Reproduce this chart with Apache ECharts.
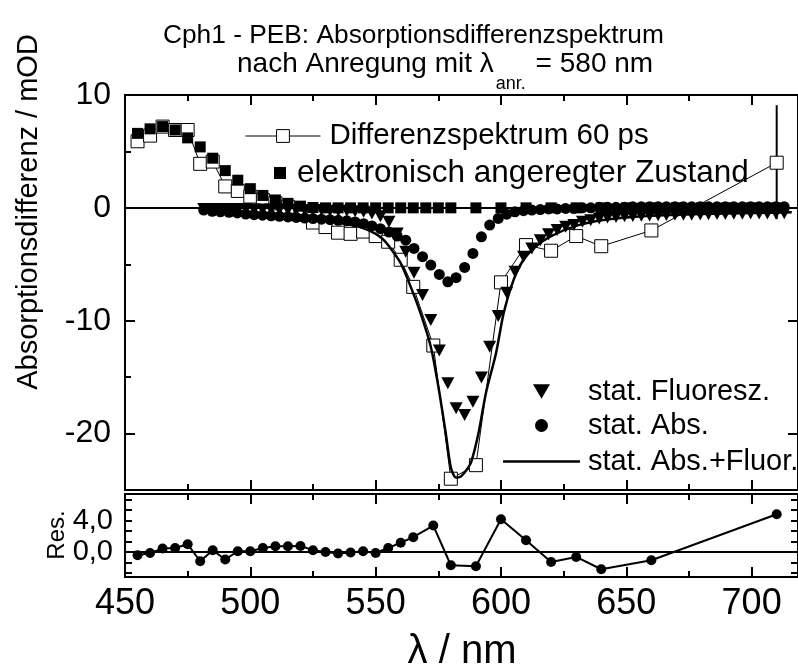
<!DOCTYPE html>
<html><head><meta charset="utf-8">
<script src="https://cdn.jsdelivr.net/npm/echarts@6/dist/echarts.min.js"></script>
<style>html,body{margin:0;padding:0;background:#fff}#c{width:798px;height:672px}</style>
</head><body><div id="c"></div>
<script>
// ---- data ----
const diffX = [455,460,465,470,475,480,485,490,495,500,505,510,515,520,525,530,535,540,545,550,555,560,565,573,580,590,600,610,620,630,640,660,710];
const diffY = [5.9,6.4,7.2,6.9,6.9,3.9,4.1,1.9,1.5,1.0,0.7,0.4,0.1,-0.6,-1.3,-1.7,-2.2,-2.3,-2.1,-2.5,-3.0,-4.6,-7.0,-12.2,-24.0,-22.8,-6.6,-3.3,-3.8,-2.5,-3.4,-2.0,4.0];
const resY  = [-0.42,-0.13,0.43,0.51,0.98,-1.19,0.22,-0.97,0.09,0.09,0.51,0.73,0.73,0.77,0.22,0.0,-0.21,-0.08,0.09,-0.13,0.51,1.18,1.88,3.37,-1.7,-1.83,4.18,1.49,-1.28,-0.64,-2.21,-1.06,4.81];
const excX = [455,460,465,470,475,480,485,490,495,500,505,510,515,520,525,530,535,540,545,550,555,560,565,570,575,580,590,600,610,620,630,640,650,660,670,680,690,700,710];
const excY = [6.6,7.0,7.2,6.9,6.2,5.4,4.4,3.3,2.45,1.7,1.1,0.7,0.4,0.15,0.03,0,0,0,0,0,0,0,0,0,0,0,0,0,0,0,0,0,0,0,0,0,0,0,0];
const statX = [481.4,484.8,488.1,491.5,494.8,498.2,501.5,504.9,508.3,511.6,
  515.0,518.3,521.7,525.0,528.4,531.8,535.1,538.5,541.8,545.2,
  548.5,551.9,555.3,558.6,562.0,565.3,568.7,572.0,575.4,578.8,
  582.1,585.5,588.8,592.2,595.5,598.9,602.3,605.6,609.0,612.3,
  615.7,619.0,622.4,625.8,629.1,632.5,635.8,639.2,642.5,645.9,
  649.3,652.6,656.0,659.3,662.7,666.0,669.4,672.8,676.1,679.5,
  682.8,686.2,689.5,692.9,696.3,699.6,703.0,706.3,709.7,713.0];
const fluorY = [-0.1,-0.1,-0.1,-0.1,-0.1,-0.1,-0.15,-0.15,-0.15,-0.15,
  -0.2,-0.2,-0.2,-0.2,-0.2,-0.25,-0.25,-0.25,-0.3,-0.35,
  -0.5,-0.75,-1.24,-2.27,-3.89,-5.75,-7.73,-9.94,-12.65,-15.54,
  -17.75,-18.35,-17.17,-15.04,-12.3,-9.58,-7.52,-5.66,-4.34,-3.6,
  -2.86,-2.33,-1.97,-1.68,-1.53,-1.24,-1.09,-0.94,-0.85,-0.8,
  -0.75,-0.72,-0.7,-0.68,-0.66,-0.64,-0.62,-0.6,-0.6,-0.58,
  -0.56,-0.55,-0.54,-0.53,-0.52,-0.51,-0.5,-0.5,-0.49,-0.48];
const absY = [-0.2,-0.3,-0.35,-0.4,-0.45,-0.55,-0.6,-0.65,-0.7,-0.75,
  -0.8,-0.85,-0.9,-0.95,-1.0,-1.05,-1.1,-1.15,-1.25,-1.4,
  -1.6,-1.85,-2.15,-2.5,-2.86,-3.6,-4.33,-5.07,-5.9,-6.55,
  -6.19,-5.28,-4.04,-2.57,-1.53,-0.94,-0.56,-0.35,-0.25,-0.2,
  -0.15,-0.1,-0.1,-0.05,-0.05,0,0,0.05,0.05,0.05,
  0.05,0.1,0.1,0.1,0.1,0.1,0.1,0.1,0.1,0.1,
  0.1,0.1,0.1,0.1,0.1,0.1,0.1,0.1,0.1,0.1];
const fitX = [480,490,500,510,520,530,540,545,550,553,556,560,564,568,572,575,578,580,582,584,586,588,591,594,598,601,605,609,614,620,630,640,650,660,680,700,716];
const fitY = [-0.2,-0.3,-0.45,-0.6,-0.8,-1.1,-1.5,-1.8,-2.3,-2.8,-3.6,-4.9,-7.0,-9.4,-12.3,-15.8,-20.0,-23.0,-23.9,-23.8,-23.3,-22.6,-20.0,-16.4,-12.9,-9.4,-6.4,-4.6,-3.4,-2.5,-1.6,-1.1,-0.85,-0.7,-0.55,-0.45,-0.4];
const errX = 710, errLow = -1.0, errHigh = 9.1;
const mainYLabels = [-20,-10,0,10];
const mainYMinor = [-15,-5,5];
const resYLabels = [0,4];
const resYTicks = [-2.667,-1.333,0,1.333,2.667,4,5.333,6.667];
const xRange = [450, 718.5];

const names = ['Differenzspektrum 60 ps','elektronisch angeregter Zustand','stat. Fluoresz.','stat. Abs.','stat. Abs.+Fluor.'];
const pairs = (xs, ys) => xs.map((x, i) => [x, ys[i]]);

// ---- chart ----
const FF = '"Liberation Sans", Arial, sans-serif';
const chart = echarts.init(document.getElementById('c'), null, {renderer: 'canvas'});
const line2 = {color: '#000', width: 2};
const black = {color: '#000', opacity: 1};
function xAx(grid, pos, labels) {
  return {type: 'value', gridIndex: grid, position: pos, min: xRange[0], max: xRange[1], interval: 50,
    axisLine: {show: true, onZero: false, lineStyle: line2},
    axisTick: {show: true, inside: true, length: 10, lineStyle: line2},
    minorTick: {show: true, splitNumber: 2, length: 6, lineStyle: line2},
    splitLine: {show: false}, minorSplitLine: {show: false},
    axisLabel: {show: labels, color: '#000', fontSize: 36, fontFamily: FF, margin: 9}};
}
function yAx(grid, pos, min, max, opts) {
  return Object.assign({type: 'value', gridIndex: grid, position: pos, min: min, max: max,
    splitLine: {show: false}, axisLine: {show: true, onZero: false, lineStyle: line2}}, opts);
}
const legendBase = {selectedMode: false, padding: 0, itemGap: 0, orient: 'vertical'};
const lt = (pad, fs) => ({color: '#000', fontSize: fs || 29, fontFamily: FF, padding: [0, 0, 0, pad]});

chart.setOption({
  animation: false,
  backgroundColor: '#fff',
  grid: [
    {left: 125, top: 95, width: 680, height: 395},
    {left: 125, top: 494, width: 680, height: 83}
  ],
  xAxis: [xAx(0, 'bottom', false), xAx(0, 'top', false), xAx(1, 'bottom', true), xAx(1, 'top', false)],
  yAxis: [
    yAx(0, 'left', -25, 10, {interval: 5,
      axisTick: {show: true, inside: true, length: 10, lineStyle: line2, customValues: mainYLabels},
      axisLabel: {color: '#000', fontSize: 32, fontFamily: FF, margin: 14, customValues: mainYLabels}}),
    yAx(0, 'left', -25, 10, {interval: 5, axisLine: {show: false},
      axisTick: {show: true, inside: true, length: 6, lineStyle: line2, customValues: mainYMinor},
      axisLabel: {show: false}}),
    yAx(0, 'right', -25, 10, {interval: 5,
      axisTick: {show: true, inside: true, length: 10, lineStyle: line2, customValues: mainYLabels},
      axisLabel: {show: false}}),
    yAx(1, 'left', -3.2, 7.4, {
      axisTick: {show: true, inside: true, length: 7, lineStyle: line2, customValues: resYTicks},
      axisLabel: {color: '#000', fontSize: 29, fontFamily: FF, margin: 12, customValues: resYLabels,
        formatter: v => v.toFixed(1).replace('.', ',')}}),
    yAx(1, 'right', -3.2, 7.4, {
      axisTick: {show: true, inside: true, length: 7, lineStyle: line2, customValues: resYTicks},
      axisLabel: {show: false}})
  ],
  legend: [
    Object.assign({}, legendBase, {data: [names[0]], left: 245, top: 121, itemWidth: 75, itemHeight: 16,
      itemStyle: {color: '#fff', borderColor: '#000', borderWidth: 1, opacity: 1}, lineStyle: {color: '#000', width: 1},
      textStyle: lt(4, 29.5)}),
    Object.assign({}, legendBase, {data: [names[1]], left: 274, top: 157, itemWidth: 12, itemHeight: 12,
      icon: 'rect', itemStyle: {color: '#000', borderWidth: 0, opacity: 1}, textStyle: lt(6, 31.5)}),
    Object.assign({}, legendBase, {data: [names[2]], left: 533, top: 377, itemWidth: 17, itemHeight: 15,
      icon: 'path://M0,0L2,0L1,1.732Z', itemStyle: {color: '#000', borderWidth: 0, opacity: 1}, textStyle: lt(33)}),
    Object.assign({}, legendBase, {data: [names[3]], left: 535, top: 411, itemWidth: 13, itemHeight: 13,
      icon: 'circle', itemStyle: {color: '#000', borderWidth: 0, opacity: 1}, textStyle: lt(35)}),
    Object.assign({}, legendBase, {data: [names[4]], left: 503, top: 447, itemWidth: 77, itemHeight: 2.5,
      icon: 'rect', itemStyle: {color: '#000', borderWidth: 0, opacity: 1}, textStyle: lt(3)})
  ],
  graphic: [
    {type: 'text', left: 163, top: 23, style: {text: 'Cph1 - PEB: Absorptionsdifferenzspektrum', font: '26.3px ' + FF, fill: '#000'}},
    {type: 'text', left: 237, top: 50, style: {text: '{a|nach Anregung mit λ}{b|anr.}{a| = 580 nm}', fill: '#000',
      rich: {a: {fontSize: 28, fontFamily: FF, fill: '#000'}, b: {fontSize: 18, fontFamily: FF, fill: '#000', padding: [40, 2, 0, 2]}}}},
    {type: 'text', x: 29, y: 212, rotation: Math.PI / 2, style: {text: 'Absorptionsdifferenz / mOD', font: '29px ' + FF, fill: '#000', align: 'center', verticalAlign: 'middle'}},
    {type: 'text', x: 57, y: 535, rotation: Math.PI / 2, style: {text: 'Res.', font: '24px ' + FF, fill: '#000', align: 'center', verticalAlign: 'middle'}},
    {type: 'text', x: 462, y: 652, style: {text: 'λ / nm', font: '40px ' + FF, fill: '#000', align: 'center', verticalAlign: 'middle'}}
  ],
  series: [
    {name: 'zero', type: 'line', xAxisIndex: 0, yAxisIndex: 0, data: [[errX, errLow], [errX, errHigh]],
      symbol: 'none', lineStyle: {color: '#000', width: 2}, z: 1, silent: true,
      markLine: {silent: true, symbol: 'none', label: {show: false}, lineStyle: {color: '#000', width: 2, type: 'solid'}, data: [{yAxis: 0}]}},
    {name: names[0], type: 'line', xAxisIndex: 0, yAxisIndex: 0, data: pairs(diffX, diffY),
      symbol: 'rect', symbolSize: 13, showAllSymbol: true,
      itemStyle: {color: '#fff', borderColor: '#000', borderWidth: 1, opacity: 1}, lineStyle: {color: '#000', width: 1}, z: 2},
    {name: names[4], type: 'line', xAxisIndex: 0, yAxisIndex: 0, data: pairs(fitX, fitY), symbol: 'none',
      smooth: 0.25, itemStyle: black, lineStyle: {color: '#000', width: 2.5}, z: 3},
    {name: names[3], type: 'scatter', xAxisIndex: 0, yAxisIndex: 0, data: pairs(statX, absY),
      symbol: 'circle', symbolSize: 11, itemStyle: black, z: 4},
    {name: names[2], type: 'scatter', xAxisIndex: 0, yAxisIndex: 0, data: pairs(statX, fluorY),
      symbol: 'triangle', symbolRotate: 180, symbolSize: [13, 12], itemStyle: black, z: 5},
    {name: names[1], type: 'scatter', xAxisIndex: 0, yAxisIndex: 0, data: pairs(excX, excY),
      symbol: 'rect', symbolSize: 11, itemStyle: black, z: 6},
    {name: 'Res.', type: 'line', xAxisIndex: 2, yAxisIndex: 3, data: pairs(diffX, resY),
      symbol: 'circle', symbolSize: 10, showAllSymbol: true, itemStyle: black, lineStyle: {color: '#000', width: 2}, z: 3,
      markLine: {silent: true, symbol: 'none', label: {show: false}, lineStyle: {color: '#000', width: 2, type: 'solid'}, data: [{yAxis: 0}]}}
  ]
});
</script></body></html>
